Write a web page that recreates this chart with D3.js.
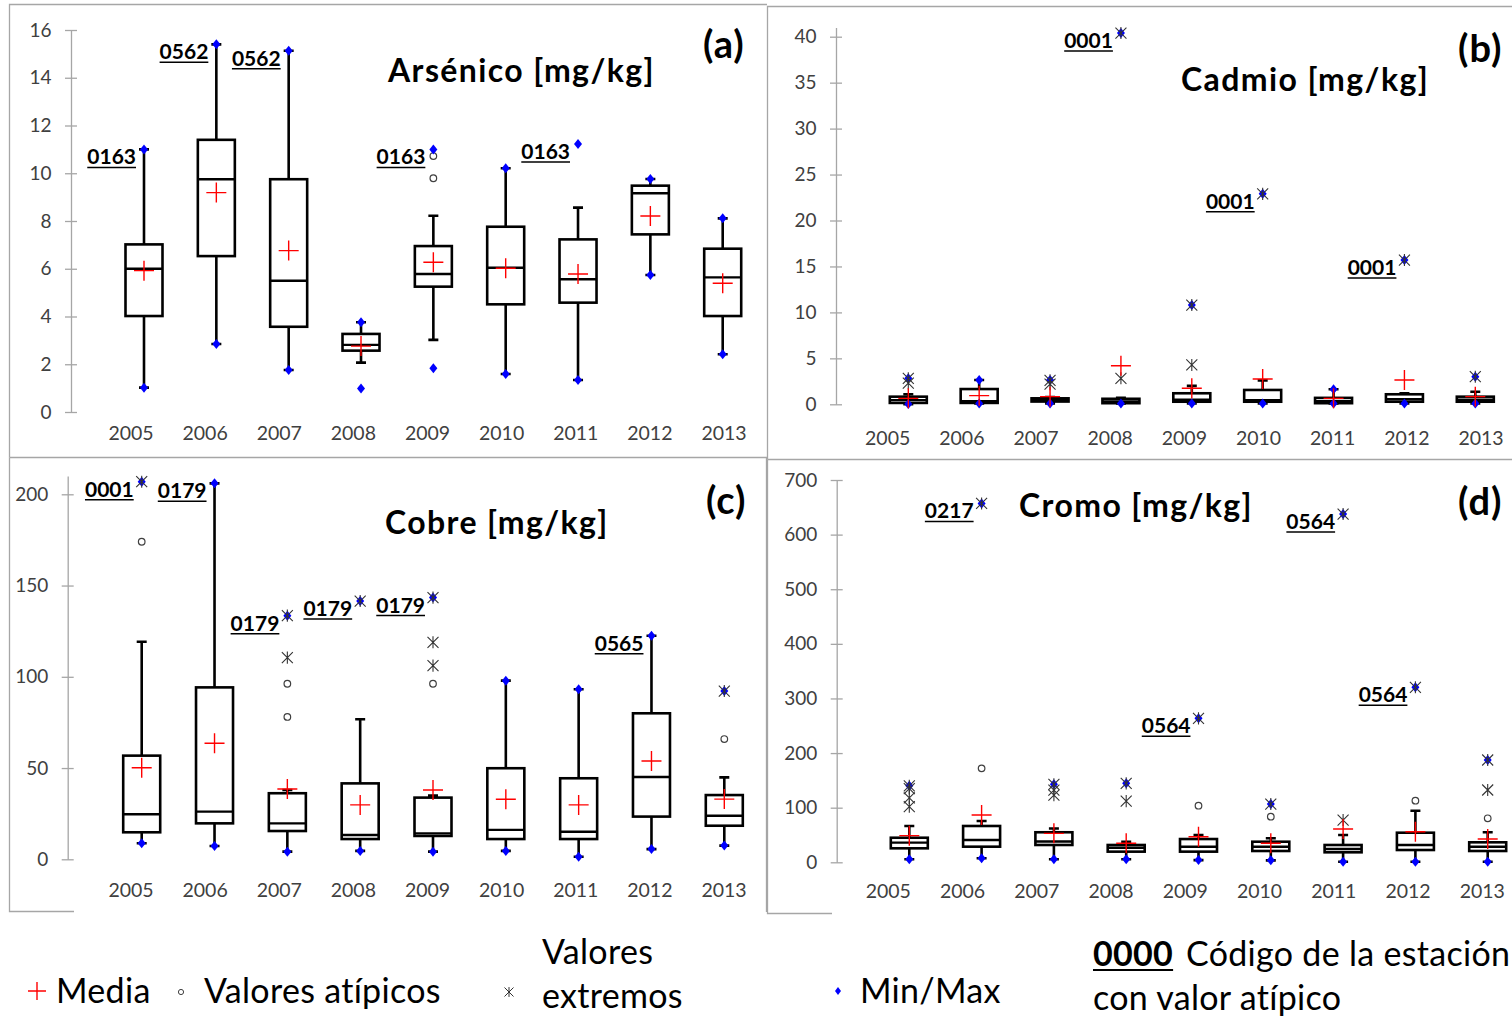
<!DOCTYPE html>
<html>
<head>
<meta charset="utf-8">
<script src="https://cdn.jsdelivr.net/npm/d3@7"></script>
<style>
  body { margin: 0; background: #fff; }
  svg { display: block; font-family: Lato, "Open Sans", sans-serif; }
</style>
</head>
<body>
<div id="chart"></div>
<script>
const years = [2005, 2006, 2007, 2008, 2009, 2010, 2011, 2012, 2013];

// (a) Arsénico
const asMin     = [1.02, 2.85, 1.76, 0.98, 1.83, 1.59, 1.34, 5.74, 2.42];
const asWhiskLo = [1.02, 2.85, 1.76, 2.07, 3.02, 1.59, 1.34, 5.74, 2.42];
const asQ1      = [4.02, 6.53, 3.57, 2.57, 5.25, 4.51, 4.58, 7.44, 4.02];
const asMedian  = [6.0, 9.75, 5.5, 2.81, 5.78, 6.04, 5.56, 9.16, 5.64];
const asQ3      = [7.02, 11.4, 9.75, 3.27, 6.95, 7.76, 7.23, 9.48, 6.84];
const asWhiskHi = [11.0, 15.4, 15.13, 3.76, 8.22, 10.21, 8.56, 9.76, 8.11];
const asMax     = [11.0, 15.4, 15.13, 3.76, 11.0, 10.21, 11.22, 9.76, 8.11];
const asMean    = [5.92, 9.19, 6.76, 2.76, 6.27, 6.02, 5.78, 8.21, 5.39];
const asOutliers = [[], [], [], [], [10.72, 9.79], [], [], [], []];
const asExtremes = [[], [], [], [], [], [], [], [], []];
const asStations = [[2005, "0163"], [2006, "0562"], [2007, "0562"], [2009, "0163"], [2011, "0163"]];
const asTicks = [0, 2, 4, 6, 8, 10, 12, 14, 16];

// (b) Cadmio
const cdMin     = [0.02, 0.1, 0.1, 0.1, 0.1, 0.1, 0.1, 0.1, 0.1];
const cdWhiskLo = [0.02, 0.1, 0.1, 0.1, 0.1, 0.1, 0.1, 0.1, 0.1];
const cdQ1      = [0.15, 0.15, 0.3, 0.12, 0.28, 0.28, 0.12, 0.28, 0.28];
const cdMedian  = [0.45, 0.35, 0.45, 0.3, 0.5, 0.45, 0.35, 0.55, 0.5];
const cdQ3      = [0.83, 1.66, 0.65, 0.6, 1.2, 1.56, 0.7, 1.09, 0.83];
const cdWhiskHi = [1.1, 2.64, 0.8, 0.7, 2.0, 2.6, 1.63, 1.2, 1.37];
const cdMax     = [2.83, 2.64, 2.64, 40.4, 10.8, 22.9, 1.63, 15.7, 3.0];
const cdMean    = [0.65, 0.94, 0.83, 4.2, 1.74, 2.75, 0.65, 2.64, 0.83];
const cdOutliers = [[], [], [], [], [], [], [], [], []];
const cdExtremes = [[2.83, 2.3], [], [2.6, 2.2], [2.83, 40.4], [4.28, 10.8], [22.9], [], [15.7], [3.0]];
const cdStations = [[2008, "0001"], [2010, "0001"], [2012, "0001"]];
const cdTicks = [0, 5, 10, 15, 20, 25, 30, 35, 40];

// (c) Cobre
const cuMin     = [8.8, 7.3, 4.2, 4.6, 4.2, 4.6, 1.4, 5.6, 7.5];
const cuWhiskLo = [8.8, 7.3, 4.2, 4.6, 4.2, 4.6, 1.4, 5.6, 7.5];
const cuQ1      = [14.8, 19.7, 15.5, 11.1, 12.8, 11.1, 11.1, 23.4, 18.4];
const cuMedian  = [24.7, 26.1, 19.7, 13.3, 14.2, 16.1, 15.1, 45.1, 23.9];
const cuQ3      = [56.8, 94.2, 36.2, 41.6, 33.8, 49.9, 44.4, 80, 35.2];
const cuWhiskHi = [119.2, 206, 38, 76.7, 34.9, 97.9, 93.2, 122.5, 44.9];
const cuMax     = [206.9, 206, 133.5, 141.5, 143.4, 97.9, 93.2, 122.5, 92.2];
const cuMean    = [50.2, 63.6, 38.5, 29.8, 38, 32.9, 29.8, 53.9, 33];
const cuOutliers = [[174], [], [96.2, 78], [], [96.2], [], [], [], [65.9]];
const cuExtremes = [[206.9], [], [133.5, 110.5], [141.5], [143.4, 118.9, 106.1], [], [], [], [92.2]];
const cuStations = [[2005, "0001"], [2006, "0179"], [2007, "0179"], [2008, "0179"], [2009, "0179"], [2012, "0565"]];
const cuTicks = [0, 50, 100, 150, 200];

// (d) Cromo
const crMin     = [5.5, 7.3, 5.5, 5.5, 4, 3.6, 1, 1, 1];
const crWhiskLo = [5.5, 7.3, 5.5, 5.5, 4, 3.6, 1, 1, 1];
const crQ1      = [25.6, 28.6, 31.7, 19.5, 19.5, 20.7, 18.3, 22.5, 20.7];
const crMedian  = [36, 40.8, 38, 26.7, 28.6, 28.6, 24.4, 31.7, 28.6];
const crQ3      = [45, 66.5, 55, 31.7, 42.6, 37.7, 31.7, 54.2, 36.6];
const crWhiskHi = [66.5, 75.6, 62, 37.7, 50, 43.9, 50, 94.5, 54.9];
const crMax     = [140, 657, 142.8, 144.6, 263.6, 106.7, 637.7, 320.4, 187.3];
const crMean    = [48.8, 86.6, 53, 34.8, 46.9, 34.8, 61, 56, 42.6];
const crOutliers = [[], [172], [], [], [103.6], [83.5], [], [112.8], [80.6]];
const crExtremes = [[140, 135, 118, 102], [657], [142.8, 132, 123], [144.6, 112], [263.6], [106.7], [637.7, 77.4], [320.4], [187.3, 132.4]];
const crStations = [[2006, "0217"], [2009, "0564"], [2011, "0564"], [2012, "0564"]];
const crTicks = [0, 100, 200, 300, 400, 500, 600, 700];

const W = 1512, H = 1018;
const svg = d3.select("#chart").append("svg").attr("width", W).attr("height", H);

const frameColor = "#a6a6a6";
const axisColor = "#a6a6a6";
const textGray = "#404040";

// panel frames (bottom edges of c and d are partly hidden by the legend)
const frames = [
  "M9.5,457.5 V4.5 H767",
  "M767.5,459.5 V6.5 H1512",
  "M9.5,457.5 H767 M766.5,457.5 V912 M9.5,457.5 V911.5 H74",
  "M767.5,459.5 H1512 M767.5,459.5 V913.5 H832"
];
svg.selectAll("path.frame").data(frames).enter().append("path")
  .attr("class", "frame").attr("d", d => d)
  .attr("fill", "none").attr("stroke", frameColor).attr("stroke-width", 1.3);

function buildRows(q1, med, q3, wlo, whi, mn, mx, mean, outl, ext) {
  return years.map((yr, i) => ({
    year: yr, q1: q1[i], median: med[i], q3: q3[i], wlo: wlo[i], whi: whi[i],
    min: mn[i], max: mx[i], mean: mean[i], outliers: outl[i], extremes: ext[i]
  }));
}

const panels = [
  { rows: buildRows(asQ1, asMedian, asQ3, asWhiskLo, asWhiskHi, asMin, asMax, asMean, asOutliers, asExtremes),
    stations: asStations, ticks: asTicks, top: 16, axisX: 71, yRange: [412, 30],
    boxRange: [144, 722.7], labelRange: [131, 724], labelY: 440,
    title: "Arsénico [mg/kg]", titleX: 388, titleY: 82, letter: "(a)", letterX: 703, letterY: 58 },
  { rows: buildRows(cdQ1, cdMedian, cdQ3, cdWhiskLo, cdWhiskHi, cdMin, cdMax, cdMean, cdOutliers, cdExtremes),
    stations: cdStations, ticks: cdTicks, top: 41, axisX: 836, yRange: [404.3, 36.7 - 9.19],
    boxRange: [908.3, 1475.3], labelRange: [887.7, 1481], labelY: 445,
    title: "Cadmio [mg/kg]", titleX: 1181, titleY: 91, letter: "(b)", letterX: 1458, letterY: 62 },
  { rows: buildRows(cuQ1, cuMedian, cuQ3, cuWhiskLo, cuWhiskHi, cuMin, cuMax, cuMean, cuOutliers, cuExtremes),
    stations: cuStations, ticks: cuTicks, top: 210, axisX: 67.7, yRange: [859.3, 859.3 - 210 * 1.825],
    boxRange: [141.7, 724.3], labelRange: [131, 724], labelY: 897,
    title: "Cobre [mg/kg]", titleX: 385, titleY: 534, letter: "(c)", letterX: 706, letterY: 514 },
  { rows: buildRows(crQ1, crMedian, crQ3, crWhiskLo, crWhiskHi, crMin, crMax, crMean, crOutliers, crExtremes),
    stations: crStations, ticks: crTicks, top: 700, axisX: 836.7, yRange: [862.3, 480],
    boxRange: [909.3, 1487.7], labelRange: [888.3, 1482.3], labelY: 898,
    title: "Cromo [mg/kg]", titleX: 1019, titleY: 517, letter: "(d)", letterX: 1458, letterY: 515 }
];

const boxW = 37, capW = 10;
const diamondPath = "M0,-5L4,0L0,5L-4,0Z";
const starPath = s => `M${-s},${-s}L${s},${s}M${-s},${s}L${s},${-s}M0,${-s * 1.1}L0,${s * 1.1}`;

function drawPanel(p) {
  const y = d3.scaleLinear().domain([0, p.top]).range(p.yRange);
  const x = d3.scalePoint().domain(years).range(p.boxRange);
  const xl = d3.scalePoint().domain(years).range(p.labelRange);
  const g = svg.append("g");

  // y axis
  const ax = g.append("g").attr("transform", `translate(${p.axisX},0)`)
    .call(d3.axisLeft(y).tickValues(p.ticks).tickSizeInner(6).tickSizeOuter(0).tickPadding(13.5));
  ax.select(".domain").attr("stroke", axisColor).attr("stroke-width", 1.3);
  ax.selectAll(".tick line").attr("x1", -6).attr("x2", 6).attr("stroke", axisColor).attr("stroke-width", 1.3);
  ax.selectAll(".tick text").attr("font-size", 19).attr("fill", textGray)
    .attr("font-family", "Lato, sans-serif");

  // year labels
  g.selectAll("text.year").data(years).enter().append("text")
    .attr("class", "year").attr("x", d => xl(d)).attr("y", p.labelY)
    .attr("text-anchor", "middle").attr("font-size", 19.5).attr("fill", textGray).text(d => d);

  const box = g.selectAll("g.box").data(p.rows).enter().append("g")
    .attr("class", "box").attr("transform", d => `translate(${x(d.year)},0)`);

  // whiskers
  box.append("path")
    .attr("d", d => `M0,${y(d.q3)}V${y(d.whi)}M0,${y(d.q1)}V${y(d.wlo)}` +
      `M${-capW / 2},${y(d.whi)}H${capW / 2}M${-capW / 2},${y(d.wlo)}H${capW / 2}`)
    .attr("stroke", "#000").attr("stroke-width", 2.6).attr("fill", "none");
  // box
  box.append("rect")
    .attr("x", -boxW / 2).attr("width", boxW)
    .attr("y", d => y(d.q3)).attr("height", d => Math.max(y(d.q1) - y(d.q3), 1))
    .attr("fill", "#fff").attr("stroke", "#000").attr("stroke-width", 2.6);
  box.append("line")
    .attr("x1", -boxW / 2).attr("x2", boxW / 2)
    .attr("y1", d => y(d.median)).attr("y2", d => y(d.median))
    .attr("stroke", "#000").attr("stroke-width", 2.4);

  // outliers
  box.selectAll("circle.out").data(d => d.outliers).enter().append("circle")
    .attr("class", "out").attr("cy", d => y(d)).attr("r", 3.3)
    .attr("fill", "#fff").attr("stroke", "#404040").attr("stroke-width", 1.2);
  // min / max
  box.selectAll("path.mm").data(d => [d.min, d.max]).enter().append("path")
    .attr("class", "mm").attr("d", diamondPath)
    .attr("transform", d => `translate(0,${y(d)})`).attr("fill", "#0000ff");
  // extremes
  box.selectAll("path.ext").data(d => d.extremes).enter().append("path")
    .attr("class", "ext").attr("d", starPath(5.5))
    .attr("transform", d => `translate(0,${y(d)})`)
    .attr("stroke", "#333").attr("stroke-width", 1.1).attr("fill", "none");
  // mean
  box.append("path")
    .attr("d", d => `M-10,${y(d.mean)}H10M0,${y(d.mean) - 10}V${y(d.mean) + 10}`)
    .attr("stroke", "#ff0000").attr("stroke-width", 1.4);

  // station codes
  const rowBy = new Map(p.rows.map(r => [r.year, r]));
  p.stations.forEach(([yr, code]) => {
    const r = rowBy.get(yr);
    const tx = x(yr) - 8, ty = y(r.max) + 15;
    const t = g.append("text").attr("x", tx).attr("y", ty).attr("text-anchor", "end")
      .attr("font-size", 21).attr("font-weight", 700).attr("fill", "#000").text(code);
    const w = t.node().getComputedTextLength();
    g.append("line").attr("x1", tx - w).attr("x2", tx).attr("y1", ty + 3).attr("y2", ty + 3)
      .attr("stroke", "#000").attr("stroke-width", 1.5);
  });

  g.append("text").attr("x", p.titleX).attr("y", p.titleY)
    .attr("font-size", 32).attr("letter-spacing", 1.4).attr("font-weight", 700)
    .attr("fill", "#000").text(p.title);
  g.append("text").attr("x", p.letterX).attr("y", p.letterY)
    .attr("font-size", 38).attr("letter-spacing", 1).attr("font-weight", 700)
    .attr("fill", "#000").text(p.letter);
}

panels.forEach(drawPanel);

// legend
const lg = svg.append("g").attr("font-size", 34).attr("letter-spacing", 0.3).attr("fill", "#000");
lg.append("path").attr("d", "M28,991H46M37,982V1000").attr("stroke", "#ff0000").attr("stroke-width", 1.4);
lg.append("text").attr("x", 56).attr("y", 1003).text("Media");
lg.append("circle").attr("cx", 181).attr("cy", 992).attr("r", 2.6)
  .attr("fill", "#fff").attr("stroke", "#404040").attr("stroke-width", 1);
lg.append("text").attr("x", 204).attr("y", 1003).text("Valores atípicos");
lg.append("path").attr("d", starPath(4.5)).attr("transform", "translate(509,992)")
  .attr("stroke", "#333").attr("stroke-width", 1).attr("fill", "none");
lg.append("text").attr("x", 542).attr("y", 964).text("Valores");
lg.append("text").attr("x", 542).attr("y", 1008).text("extremos");
lg.append("path").attr("d", "M0,-4L3,0L0,4L-3,0Z").attr("transform", "translate(838,991)").attr("fill", "#0000ff");
lg.append("text").attr("x", 860).attr("y", 1003).text("Min/Max");
const code0 = lg.append("text").attr("x", 1093).attr("y", 966).attr("font-weight", 700).text("0000");
const cw = code0.node().getComputedTextLength();
lg.append("line").attr("x1", 1093).attr("x2", 1093 + cw).attr("y1", 970).attr("y2", 970)
  .attr("stroke", "#000").attr("stroke-width", 2);
lg.append("text").attr("x", 1186).attr("y", 966).text("Código de la estación");
lg.append("text").attr("x", 1093).attr("y", 1010).text("con valor atípico");
</script>
</body>
</html>
